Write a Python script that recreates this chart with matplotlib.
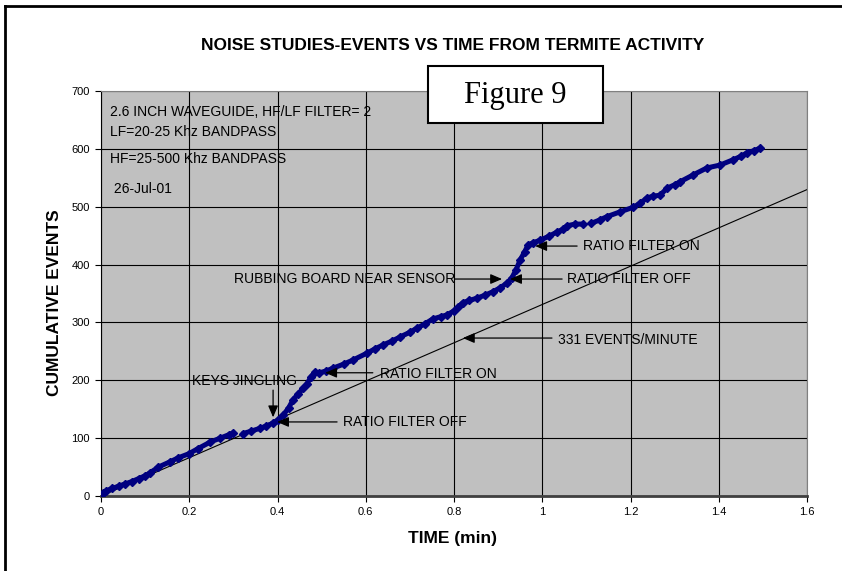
import numpy as np
import matplotlib
matplotlib.use("Agg")
import matplotlib.pyplot as plt
from matplotlib.patches import Rectangle
from matplotlib.lines import Line2D
from matplotlib.ticker import MultipleLocator, FormatStrFormatter

plt.rcParams['font.family'] = ['Liberation Sans', 'DejaVu Sans']

# cumulative events (nan = gap in the recording)
time_min = [0.000, 0.005, 0.012, 0.025, 0.040, 0.055, 0.070, 0.085, 0.100, 0.111,
            0.130, 0.156, 0.175, 0.199, 0.220, 0.247, 0.270, 0.290, 0.299, np.nan,
            0.322, 0.340, 0.360, 0.375, 0.390, 0.400, 0.413, 0.425, 0.435, 0.446,
            0.458, 0.466, 0.476, 0.485, 0.495, 0.510, 0.526, 0.550, 0.571, 0.603,
            0.620, 0.639, 0.660, 0.678, 0.700, 0.716, 0.735, 0.752, 0.770, 0.784,
            0.800, 0.810, 0.820, 0.835, 0.852, 0.870, 0.888, 0.905, 0.920, 0.931,
            0.940, 0.950, 0.960, 0.968, 0.980, 0.995, 1.015, 1.033, 1.047, 1.056,
            1.074, 1.092, np.nan, 1.110, 1.130, 1.147, 1.176, 1.206, 1.222, 1.237,
            1.250, 1.267, 1.283, 1.300, 1.312, 1.342, 1.373, 1.403, 1.432, 1.450,
            1.464, 1.480, 1.493]
events = [0, 5, 9, 13, 17, 21, 25, 30, 35, 40,
          50, 59, 66, 73, 82, 93, 100, 106, 109, np.nan,
          108, 112, 117, 121, 126, 131, 140, 152, 166, 176,
          186, 193, 206, 214, 213, 216, 221, 228, 235, 247,
          254, 261, 268, 275, 283, 290, 298, 306, 310, 313,
          320, 327, 334, 338, 342, 347, 353, 360, 368, 377,
          390, 408, 422, 434, 438, 442, 449, 456, 461, 467,
          470, 470, np.nan, 471, 477, 483, 491, 499, 506, 515,
          518, 520, 532, 538, 543, 555, 567, 572, 581, 587,
          593, 597, 601]

# 331 events/minute reference line
trend_time = [0.0, 1.6]
trend_events = [0.0, 529.6]

x_ticks = [0, 0.2, 0.4, 0.6, 0.8, 1.0, 1.2, 1.4, 1.6]
y_ticks = [0, 100, 200, 300, 400, 500, 600, 700]

info_lines = ["2.6 INCH WAVEGUIDE, HF/LF FILTER= 2",
              "LF=20-25 Khz BANDPASS",
              "HF=25-500 Khz BANDPASS",
              " 26-Jul-01"]

# (label, text x, text y, ha, arrow tail, arrow tip)
notes = [
    ("KEYS JINGLING", 0.207, 199, 'left', (0.390, 183), (0.390, 136)),
    ("RATIO FILTER OFF", 0.548, 128, 'left', (0.535, 128), (0.399, 128)),
    ("RATIO FILTER ON", 0.632, 210, 'left', (0.616, 213), (0.508, 213)),
    ("331 EVENTS/MINUTE", 1.036, 269, 'left', (1.022, 273), (0.820, 273)),
    ("RUBBING BOARD NEAR SENSOR", 0.802, 375, 'right', (0.802, 375), (0.909, 375)),
    ("RATIO FILTER OFF", 1.056, 375, 'left', (1.045, 375), (0.927, 375)),
    ("RATIO FILTER ON", 1.092, 432, 'left', (1.079, 432), (0.984, 432)),
]

W, H = 842, 571
fig = plt.figure(figsize=(W / 100, H / 100), dpi=100)
ax = fig.add_axes([101 / W, 1 - 496 / H, 706 / W, 405 / H])
ax.set_facecolor('#c0c0c0')

ax.plot(trend_time, trend_events, color='black', lw=0.8, zorder=2)
ax.plot(time_min, events, color='#000080', lw=3.6, marker='D', ms=4,
        solid_capstyle='round', zorder=3)

ax.set_xlim(0, 1.6)
ax.set_ylim(0, 700)
ax.set_xticks(x_ticks)
ax.set_yticks(y_ticks)
ax.xaxis.set_major_formatter(FormatStrFormatter('%g'))
ax.grid(True, color='black', lw=0.8)
ax.set_axisbelow(True)
ax.tick_params(direction='out', length=4, width=0.8, labelsize=8, pad=4)

for side in ['top', 'right']:
    ax.spines[side].set_color('#808080')
ax.spines['left'].set_color('black')
ax.spines['bottom'].set_color('#404040')
ax.spines['bottom'].set_linewidth(2)

for i, line in enumerate(info_lines):
    ax.text(0.0127, [0.948, 0.899, 0.832, 0.758][i], line, transform=ax.transAxes,
            fontsize=10, va='center', ha='left')

for label, tx, ty, ha, tail, tip in notes:
    ax.text(tx, ty, label, fontsize=10, ha=ha, va='center', zorder=4)
    ax.annotate('', xy=tip, xytext=tail,
                arrowprops=dict(arrowstyle='-|>,head_length=0.7,head_width=0.3',
                                color='black', lw=0.9, shrinkA=0, shrinkB=0),
                zorder=4)

fig.text(453 / W, 1 - 46 / H, "NOISE STUDIES-EVENTS VS TIME FROM TERMITE ACTIVITY",
         fontsize=12.5, fontweight='bold', ha='center', va='center')
fig.text(453 / W, 1 - 538 / H, "TIME (min)", fontsize=12.5, fontweight='bold',
         ha='center', va='center')
fig.text(55 / W, 1 - 303 / H, "CUMULATIVE EVENTS", fontsize=12.5, fontweight='bold',
         ha='center', va='center', rotation=90)

# "Figure 9" label box
fig.add_artist(Rectangle((428 / W, 1 - 123 / H), 175 / W, 57 / H, transform=fig.transFigure,
                         facecolor='white', edgecolor='black', lw=1.5, zorder=5))
fig.text(515 / W, 1 - 95 / H, "Figure 9", fontsize=22, family='Liberation Serif',
         ha='center', va='center', zorder=6)

# page border
fig.add_artist(Line2D([5 / W, 1], [1 - 6 / H, 1 - 6 / H], transform=fig.transFigure,
                      color='black', lw=2))
fig.add_artist(Line2D([5 / W, 5 / W], [0, 1 - 6 / H], transform=fig.transFigure,
                      color='black', lw=2))

fig.savefig('out.png', dpi=100)
